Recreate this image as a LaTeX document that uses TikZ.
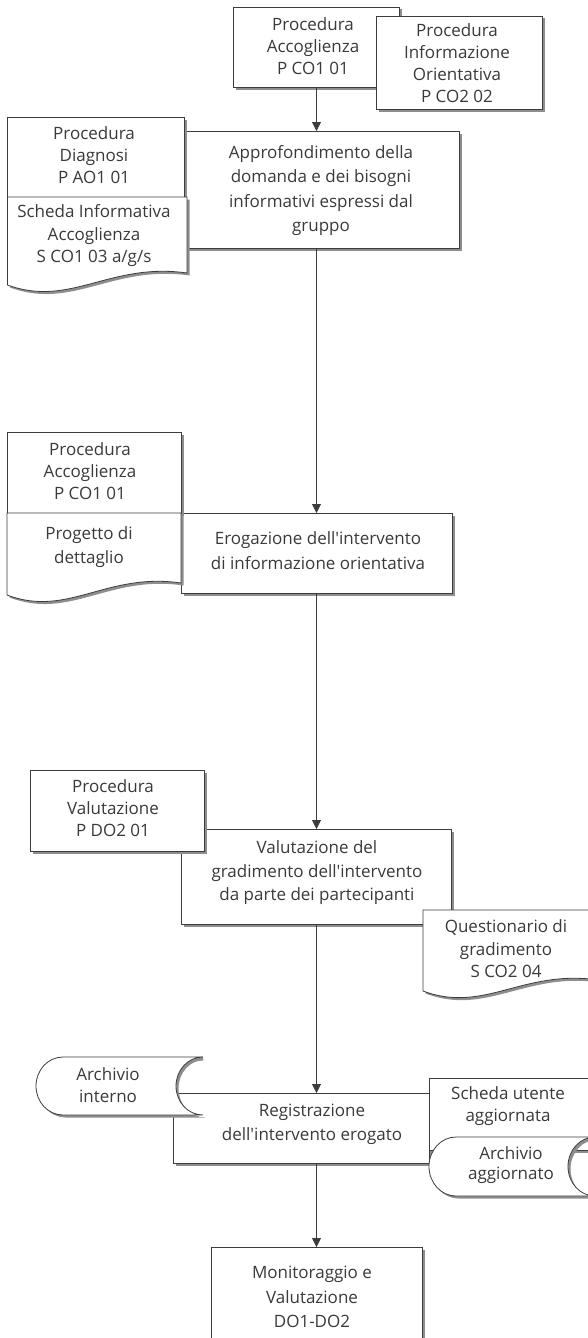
\documentclass[tikz,border=0pt]{standalone}
\usepackage{fontspec}
\setmainfont{Open Sans}[Ligatures=TeXOff]
\usetikzlibrary{arrows.meta,shadows}
\definecolor{ln}{HTML}{3C3C3C}
\definecolor{tx}{HTML}{3A3A3A}
\definecolor{sh}{HTML}{8E8E8E}
\begin{document}
\begin{tikzpicture}[x=1pt,y=-1pt,
  shad/.style={drop shadow={shadow xshift=2.5pt,shadow yshift=-2.5pt,fill=sh,opacity=1}},
  box/.style={draw=ln,line width=0.8pt,fill=white,shad,rectangle,inner sep=0pt,outer sep=0pt},
  shp/.style={draw=ln,line width=0.8pt,fill=white,shad},
  lbl/.style={text=tx,align=center,inner sep=0pt,font=\fontsize{17}{22}\selectfont},
  mlbl/.style={lbl,font=\fontsize{17}{24.5}\selectfont},
  flow/.style={draw=ln,line width=0.8pt,-{Triangle[width=9pt,length=9pt]}},
  cshade/.style={draw=sh,line width=4pt},
  docp/.style n args={5}{insert path={(#1,#3) -- (#2,#3) -- (#2,#5)
     .. controls ({#1+0.57*(#2-#1)},{#5-11}) and ({#1+0.35*(#2-#1)},{#4+23}) .. (#1,#4) -- cycle}},
  stor/.style n args={4}{insert path={({#1+27},#3) -- ({#2+27},#3)
     .. controls ({#2+12},#3) and (#2,{(#3+#4)/2-0.276*(#4-#3)}) .. (#2,{(#3+#4)/2})
     .. controls (#2,{(#3+#4)/2+0.276*(#4-#3)}) and ({#2+12},#4) .. ({#2+27},#4)
     -- ({#1+27},#4)
     .. controls ({#1+12},#4) and (#1,{(#3+#4)/2+0.276*(#4-#3)}) .. (#1,{(#3+#4)/2})
     .. controls (#1,{(#3+#4)/2-0.276*(#4-#3)}) and ({#1+12},#3) .. cycle}},
  concv/.style n args={3}{insert path={({#1+27},{#2+1.5})
     .. controls ({#1+12},{#2+1.5}) and (#1,{(#2+#3)/2-0.276*(#3-#2)}) .. (#1,{(#2+#3)/2})
     .. controls (#1,{(#2+#3)/2+0.2*(#3-#2)}) .. ({#1+4},{#3-10})}}
]
\useasboundingbox (0,0) rectangle (588,1338);
\coordinate (axis) at (316.5,0);

% --- block 1
\node[box,minimum width=166pt,minimum height=80pt] (pacc1) at (316,47) {};
\node[lbl] (pacc1t) at (313,46) {Procedura\\Accoglienza\\P CO1 01};
\node[box,minimum width=166pt,minimum height=93pt] (pinf) at (459,62.5) {};
\node[lbl] (pinft) at (457,63.5) {Procedura\\Informazione\\Orientativa\\P CO2 02};

% --- block 2
\node[box,minimum width=274pt,minimum height=117pt] (appr) at (322,189.5) {};
\node[mlbl] (apprt) at (321,190.5) {Approfondimento della\\domanda e dei bisogni\\informativi espressi dal\\gruppo};
\node[box,minimum width=176.5pt,minimum height=80pt] (pdia) at (95.75,157) {};
\node[lbl] (pdiat) at (94,155) {Procedura\\Diagnosi\\P AO1 01};
\path[shp,docp={7.5}{187}{197}{285}{273}];
\node[lbl,font=\fontsize{17}{22.5}\selectfont] (sinf) at (94,236) {Scheda Informativa\\Accoglienza\\S CO1 03 a/g/s};

% --- block 3
\node[box,minimum width=271pt,minimum height=80pt] (erog) at (316.5,553) {};
\node[mlbl] (erogt) at (318,550.5) {Erogazione dell'intervento\\di informazione orientativa};
\node[box,minimum width=174pt,minimum height=81pt] (pacc2) at (94,472.5) {};
\node[lbl] (pacc2t) at (90,471) {Procedura\\Accoglienza\\P CO1 01};
\path[shp,docp={7}{181}{513}{595}{583}];
\node[mlbl] (prog) at (89,547) {Progetto di\\dettaglio};

% --- block 4
\node[box,minimum width=270pt,minimum height=95pt] (valu) at (316,876.5) {};
\node[lbl,font=\fontsize{17}{23.5}\selectfont] (valut) at (317,873) {Valutazione del\\gradimento dell'intervento\\da parte dei partecipanti};
\node[box,minimum width=174pt,minimum height=81pt] (pval) at (117,810.5) {};
\node[lbl] (pvalt) at (113,808) {Procedura\\Valutazione\\P DO2 01};
\path[shp,docp={423}{598}{910}{991}{980}];
\node[lbl,font=\fontsize{17}{22.5}\selectfont] (quest) at (506,949) {Questionario di\\gradimento\\S CO2 04};

% --- block 5
\node[box,minimum width=256pt,minimum height=70pt] (reg) at (301,1128) {};
\node[mlbl] (regt) at (312,1124.5) {Registrazione\\dell'intervento erogato};
\path[cshade,concv={176}{1057}{1115}];
\path[shp,stor={36}{176}{1057}{1115}];
\node[lbl] (arint) at (108,1085) {Archivio\\interno};
\node[box,minimum width=171pt,minimum height=72pt] (sute) at (514.5,1114) {};
\node[lbl] (sutet) at (508,1106) {Scheda utente\\aggiornata};
\path[cshade,concv={568}{1137}{1196}];
\path[shp,stor={429}{568}{1137}{1196}];
\node[lbl,font=\fontsize{17}{19.5}\selectfont] (aragg) at (511,1165) {Archivio\\aggiornato};

% --- block 6
\node[box,minimum width=211pt,minimum height=98pt] (moni) at (316.5,1296) {};
\node[mlbl] (monit) at (312,1297) {Monitoraggio e\\Valutazione\\DO1-DO2};

% --- connectors
\draw[flow] (pacc1.south -| axis) -- (appr.north -| axis);
\draw[flow] (appr.south -| axis) -- (erog.north -| axis);
\draw[flow] (erog.south -| axis) -- (valu.north -| axis);
\draw[flow] (valu.south -| axis) -- (reg.north -| axis);
\draw[flow] (reg.south -| axis) -- (moni.north -| axis);
\end{tikzpicture}
\end{document}
